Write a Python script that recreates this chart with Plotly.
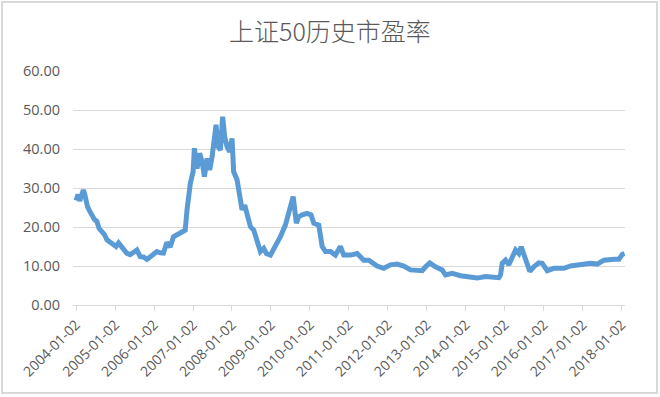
import plotly.graph_objects as go

title_text = "上证50历史市盈率"

dates = [
    "2004-01-02", "2004-01-20", "2004-02-05", "2004-02-20", "2004-03-10", "2004-03-25",
    "2004-04-18", "2004-05-10", "2004-05-30", "2004-06-20", "2004-07-15", "2004-08-05",
    "2004-08-31", "2004-09-25", "2004-10-17", "2004-11-15", "2004-12-18", "2005-01-10",
    "2005-02-03", "2005-02-25", "2005-03-21", "2005-04-20", "2005-05-23", "2005-06-25",
    "2005-07-25", "2005-08-25", "2005-09-25", "2005-10-27", "2005-11-25", "2005-12-25",
    "2006-01-29", "2006-03-01", "2006-03-31", "2006-05-02", "2006-06-02", "2006-07-03",
    "2006-08-19", "2006-09-05", "2006-10-21", "2006-11-07", "2006-12-08", "2007-01-03",
    "2007-01-15", "2007-02-09", "2007-03-05", "2007-03-28", "2007-04-19", "2007-05-14",
    "2007-06-07", "2007-06-30", "2007-07-15", "2007-08-06", "2007-08-25", "2007-09-16",
    "2007-10-07", "2007-10-26", "2007-11-17", "2007-12-12", "2008-01-03", "2008-01-18",
    "2008-02-19", "2008-03-15", "2008-04-06", "2008-05-01", "2008-05-23", "2008-06-23",
    "2008-07-24", "2008-08-25", "2008-09-25", "2008-10-26", "2008-11-20", "2008-12-28",
    "2009-02-12", "2009-03-31", "2009-05-17", "2009-06-17", "2009-07-03", "2009-07-29",
    "2009-08-28", "2009-09-19", "2009-10-21", "2009-12-07", "2010-01-13", "2010-02-07",
    "2010-03-26", "2010-04-27", "2010-05-28", "2010-07-13", "2010-08-29", "2010-10-15",
    "2010-11-15", "2011-01-17", "2011-03-21", "2011-05-22", "2011-07-08", "2011-09-24",
    "2011-11-25", "2012-01-27", "2012-03-30", "2012-05-31", "2012-08-02", "2012-10-04",
    "2012-11-20", "2012-12-21", "2013-01-30", "2013-03-24", "2013-05-26", "2013-06-26",
    "2013-08-28", "2013-11-14", "2014-02-16", "2014-04-19", "2014-07-06", "2014-08-22",
    "2014-11-08", "2014-11-24", "2014-12-10", "2015-01-10", "2015-02-10", "2015-04-14",
    "2015-05-15", "2015-06-06", "2015-07-01", "2015-08-01", "2015-08-26", "2015-10-02",
    "2015-11-18", "2015-12-20", "2016-02-05", "2016-04-07", "2016-07-10", "2016-09-11",
    "2016-12-13", "2017-03-17", "2017-05-19", "2017-07-20", "2017-10-22", "2017-12-08",
    "2018-01-09", "2018-01-30",
]

pe_values = [
    26.8, 28.3, 26.7, 28.0, 29.5, 28.2,
    25.2, 24.0, 22.7, 22.0, 21.4, 19.6,
    18.8, 18.0, 16.7, 16.2, 15.4, 15.0,
    15.9, 15.2, 14.1, 13.3, 12.9, 13.4,
    14.1, 12.4, 12.3, 11.7, 12.2, 12.9,
    13.7, 13.4, 13.3, 16.0, 14.9, 17.5,
    18.3, 18.4, 19.2, 24.4, 31.2, 34.2,
    40.2, 35.0, 38.9, 36.8, 32.9, 37.6,
    34.6, 38.0, 40.6, 46.2, 40.6, 39.7,
    48.3, 43.2, 40.6, 39.3, 42.7, 34.2,
    32.1, 26.9, 24.4, 25.6, 23.1, 20.1,
    19.2, 16.2, 13.7, 14.5, 13.2, 12.8,
    15.0, 17.5, 20.5, 23.5, 24.4, 27.8,
    21.0, 22.6, 23.1, 23.5, 23.1, 21.0,
    20.5, 15.0, 13.7, 13.7, 12.8, 15.0,
    12.8, 12.8, 13.2, 11.5, 11.5, 10.0,
    9.4, 10.3, 10.5, 10.0, 9.0, 9.0,
    8.8, 9.8, 10.8, 9.8, 9.0, 7.7,
    8.1, 7.5, 7.0, 6.9, 7.3, 7.1,
    7.0, 7.7, 10.7, 11.5, 10.3, 14.1,
    13.2, 14.9, 12.8, 11.1, 8.6, 9.8,
    10.8, 10.7, 8.8, 9.4, 9.4, 10.0,
    10.4, 10.7, 10.5, 11.5, 11.7, 11.7,
    13.0, 13.2,
]

x_tick_vals = [f"{y}-01-02" for y in range(2004, 2019)]
x_tick_text = [f"{y}-01-02" for y in range(2004, 2019)]
y_tick_vals = [0, 10, 20, 30, 40, 50, 60]

W, H = 660, 397
L, R, T, B = 73, 35, 71, 92
PW, PH = W - L - R, H - T - B

fig = go.Figure()
fig.add_trace(go.Scatter(
    x=dates, y=pe_values, mode="lines",
    line=dict(color="#5B9BD5", width=5),
    hoverinfo="x+y", showlegend=False,
))

grey = "#595959"
fig.update_layout(
    width=W, height=H,
    margin=dict(l=L, r=R, t=T, b=B),
    paper_bgcolor="white", plot_bgcolor="white",
    font=dict(family="Open Sans, Noto Sans CJK SC, sans-serif", color=grey, size=13),
    title=dict(
        text=title_text, x=0.5, xanchor="center", xref="container",
        y=1 - 32 / H, yanchor="middle", yref="container",
        font=dict(family="Noto Sans CJK SC, sans-serif", size=25, color=grey, weight=300),
    ),
    xaxis=dict(
        type="date", range=["2003-12-04", "2018-02-03"],
        tickmode="array", tickvals=x_tick_vals, ticktext=x_tick_text,
        tickangle=-45, showgrid=False, zeroline=False,
        showline=True, linecolor="#d9d9d9", linewidth=1,
        ticks="outside", ticklen=5, tickcolor="#d9d9d9",
        tickfont=dict(size=14, color=grey),
    ),
    yaxis=dict(
        range=[0, 60], tickmode="array", tickvals=y_tick_vals,
        tickformat=".2f", showgrid=True, gridcolor="#d9d9d9", gridwidth=1,
        zeroline=False, showline=False, ticks="",
        ticklabelstandoff=12,
        tickfont=dict(size=14.5, color=grey),
    ),
    shapes=[dict(
        type="rect", xref="paper", yref="paper",
        x0=(2 - L) / PW, x1=(657 - L) / PW,
        y0=(T + PH - 393) / PH, y1=(T + PH - 2) / PH,
        line=dict(color="#d9d9d9", width=2), fillcolor="rgba(0,0,0,0)",
        layer="below",
    )],
)

fig.write_html(
    "out.html",
    config={"displayModeBar": False},
    post_script="document.body.style.margin='0';document.body.style.overflow='hidden';",
)
